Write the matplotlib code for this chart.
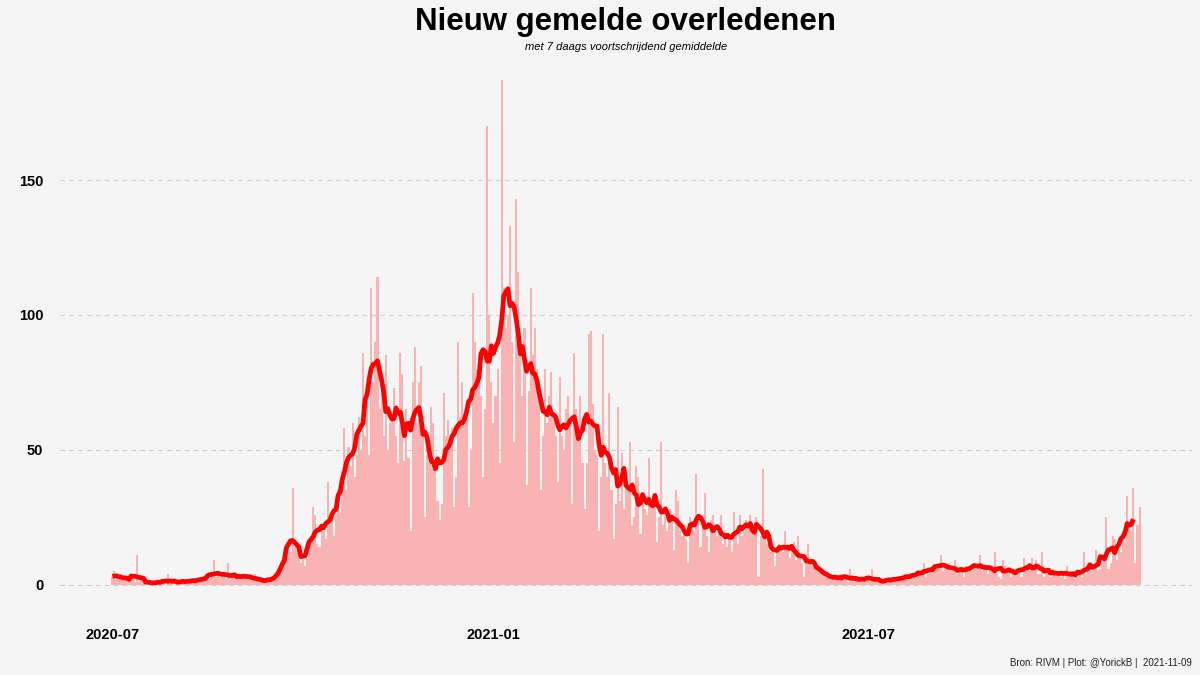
import numpy as np
import pandas as pd
import matplotlib
matplotlib.use("Agg")
import matplotlib.pyplot as plt
import matplotlib.dates as mdates

plt.rcParams['font.family'] = ['Liberation Sans', 'DejaVu Sans']

# Last days of June 2020 (only used for the centred 7-day average)
june_tail = [3, 2, 4]

# Daily reported deaths from 2020-07-01, one row per week
daily = [
    3, 5, 2, 3, 4, 2, 2,
    2, 3, 2, 2, 1, 11, 1,
    2, 1, 1, 1, 0, 1, 1,
    1, 0, 1, 1, 2, 0, 4,
    1, 1, 0, 2, 1, 1, 1,
    1, 2, 1, 1, 2, 1, 2,
    2, 1, 3, 2, 3, 2, 4,
    9, 3, 4, 3, 4, 3, 2,
    8, 3, 3, 2, 3, 3, 4,
    3, 4, 2, 3, 3, 2, 4,
    2, 1, 2, 1, 2, 1, 2,
    2, 3, 2, 3, 5, 6, 9,
    13, 15, 12, 36, 14, 15, 10,
    8, 9, 7, 10, 15, 16, 29,
    26, 15, 14, 22, 20, 17, 38,
    22, 26, 18, 26, 35, 27, 42,
    58, 35, 51, 44, 60, 40, 48,
    62, 50, 86, 55, 70, 48, 110,
    75, 90, 114, 65, 72, 55, 85,
    50, 60, 62, 73, 55, 45, 86,
    78, 46, 65, 47, 20, 75, 88,
    60, 75, 81, 56, 25, 48, 45,
    66, 60, 45, 31, 24, 30, 71,
    55, 61, 52, 58, 29, 40, 90,
    62, 75, 60, 64, 29, 50, 108,
    90, 80, 85, 70, 40, 65, 170,
    100, 75, 60, 70, 80, 45, 187,
    110, 95, 100, 133, 90, 53, 143,
    116, 85, 70, 95, 37, 72, 110,
    85, 95, 80, 70, 35, 55, 80,
    60, 70, 79, 62, 55, 38, 77,
    55, 50, 65, 70, 60, 30, 86,
    65, 55, 70, 45, 28, 45, 93,
    94, 67, 50, 48, 20, 40, 93,
    45, 40, 71, 35, 17, 30, 66,
    31, 49, 28, 40, 35, 53, 22,
    25, 44, 40, 19, 30, 28, 26,
    47, 30, 33, 28, 16, 25, 53,
    22, 25, 20, 28, 24, 13, 35,
    31, 20, 18, 22, 17, 8, 25,
    22, 20, 41, 25, 14, 22, 34,
    18, 12, 24, 26, 20, 18, 22,
    26, 15, 18, 14, 17, 12, 27,
    20, 15, 26, 18, 20, 24, 22,
    26, 20, 22, 25, 3, 18, 43,
    20, 15, 13, 12, 16, 7, 14,
    15, 13, 12, 20, 14, 10, 13,
    16, 9, 18, 10, 8, 3, 11,
    15, 8, 7, 9, 6, 5, 6,
    4, 5, 3, 4, 2, 3, 2,
    2, 3, 4, 2, 3, 1, 6,
    2, 1, 2, 3, 1, 2, 3,
    2, 2, 1, 6, 2, 1, 1,
    1, 2, 1, 2, 1, 2, 3,
    2, 1, 3, 2, 2, 3, 4,
    3, 4, 3, 2, 5, 4, 5,
    8, 3, 4, 6, 5, 7, 6,
    8, 11, 5, 7, 6, 8, 5,
    5, 9, 4, 6, 5, 3, 7,
    6, 7, 5, 8, 6, 7, 11,
    5, 6, 7, 4, 6, 5, 12,
    4, 3, 2, 9, 7, 6, 5,
    3, 5, 4, 6, 5, 3, 10,
    5, 6, 5, 10, 5, 9, 4,
    4, 12, 3, 5, 4, 3, 6,
    5, 4, 5, 3, 4, 2, 7,
    4, 5, 4, 2, 3, 4, 3,
    12, 4, 5, 6, 5, 7, 13,
    5, 6, 8, 9, 25, 6, 8,
    18, 17, 9, 13, 12, 20, 16,
    33, 22, 20, 36, 8, 22, 29,
]

start = pd.Timestamp("2020-07-01")
dates = pd.date_range(start, periods=len(daily), freq="D")
full = pd.Series(june_tail + daily,
                 index=pd.date_range(start - pd.Timedelta(days=len(june_tail)),
                                     periods=len(june_tail) + len(daily), freq="D"))
avg = full.rolling(7, center=True).mean()
avg = avg[avg.index >= start].dropna()

title = "Nieuw gemelde overledenen"
subtitle = "met 7 daags voortschrijdend gemiddelde"
caption = "Bron: RIVM | Plot: @YorickB |  2021-11-09"
xticks = ["2020-07-01", "2021-01-01", "2021-07-01"]
yticks = [0, 50, 100, 150]

bg = "#f5f5f5"
fig = plt.figure(figsize=(12, 6.75), dpi=100, facecolor=bg)
ax = fig.add_axes([0.05, 0.0963, 0.9433, 0.8222], facecolor=bg)

xnum = mdates.date2num(dates)
ax.bar(xnum, daily, width=1.0, color="#fab3b3", linewidth=0, zorder=2)
ax.plot(mdates.date2num(avg.index), avg.values, color="#ff0000", lw=3.4,
        solid_capstyle="butt", zorder=3)

lo, hi = xnum[0] - 0.45, xnum[-1] + 0.45
span = hi - lo
ax.set_xlim(lo - 0.05 * span, hi + 0.05 * span)
ymax = max(daily)
ax.set_ylim(-0.05 * ymax, 1.05 * ymax)

ax.set_xticks(mdates.date2num(pd.to_datetime(xticks)))
ax.set_xticklabels([pd.Timestamp(t).strftime("%Y-%m") for t in xticks],
                   fontweight="bold", fontsize=10.5)
ax.set_yticks(yticks)
ax.set_yticklabels([str(v) for v in yticks], fontweight="bold", fontsize=10.5)
ax.tick_params(axis="both", length=0, colors="black")
ax.tick_params(axis="x", pad=13)
ax.tick_params(axis="y", pad=12)

ax.grid(axis="y", color="#cfcfcf", linestyle=(0, (4, 4)), linewidth=0.8, zorder=0)
ax.grid(axis="x", visible=False)
for s in ax.spines.values():
    s.set_visible(False)

cx = 0.05 + 0.9433 / 2
fig.text(cx, 0.968, title, ha="center", va="center", fontsize=22.5,
         fontweight="bold", color="black")
fig.text(cx, 0.931, subtitle, ha="center", va="center", fontsize=8,
         fontstyle="italic", color="black")
fig.text(0.9933, 0.018, caption, ha="right", va="center", fontsize=7,
         color="#222222")

fig.savefig("out.png", dpi=100, facecolor=bg)
